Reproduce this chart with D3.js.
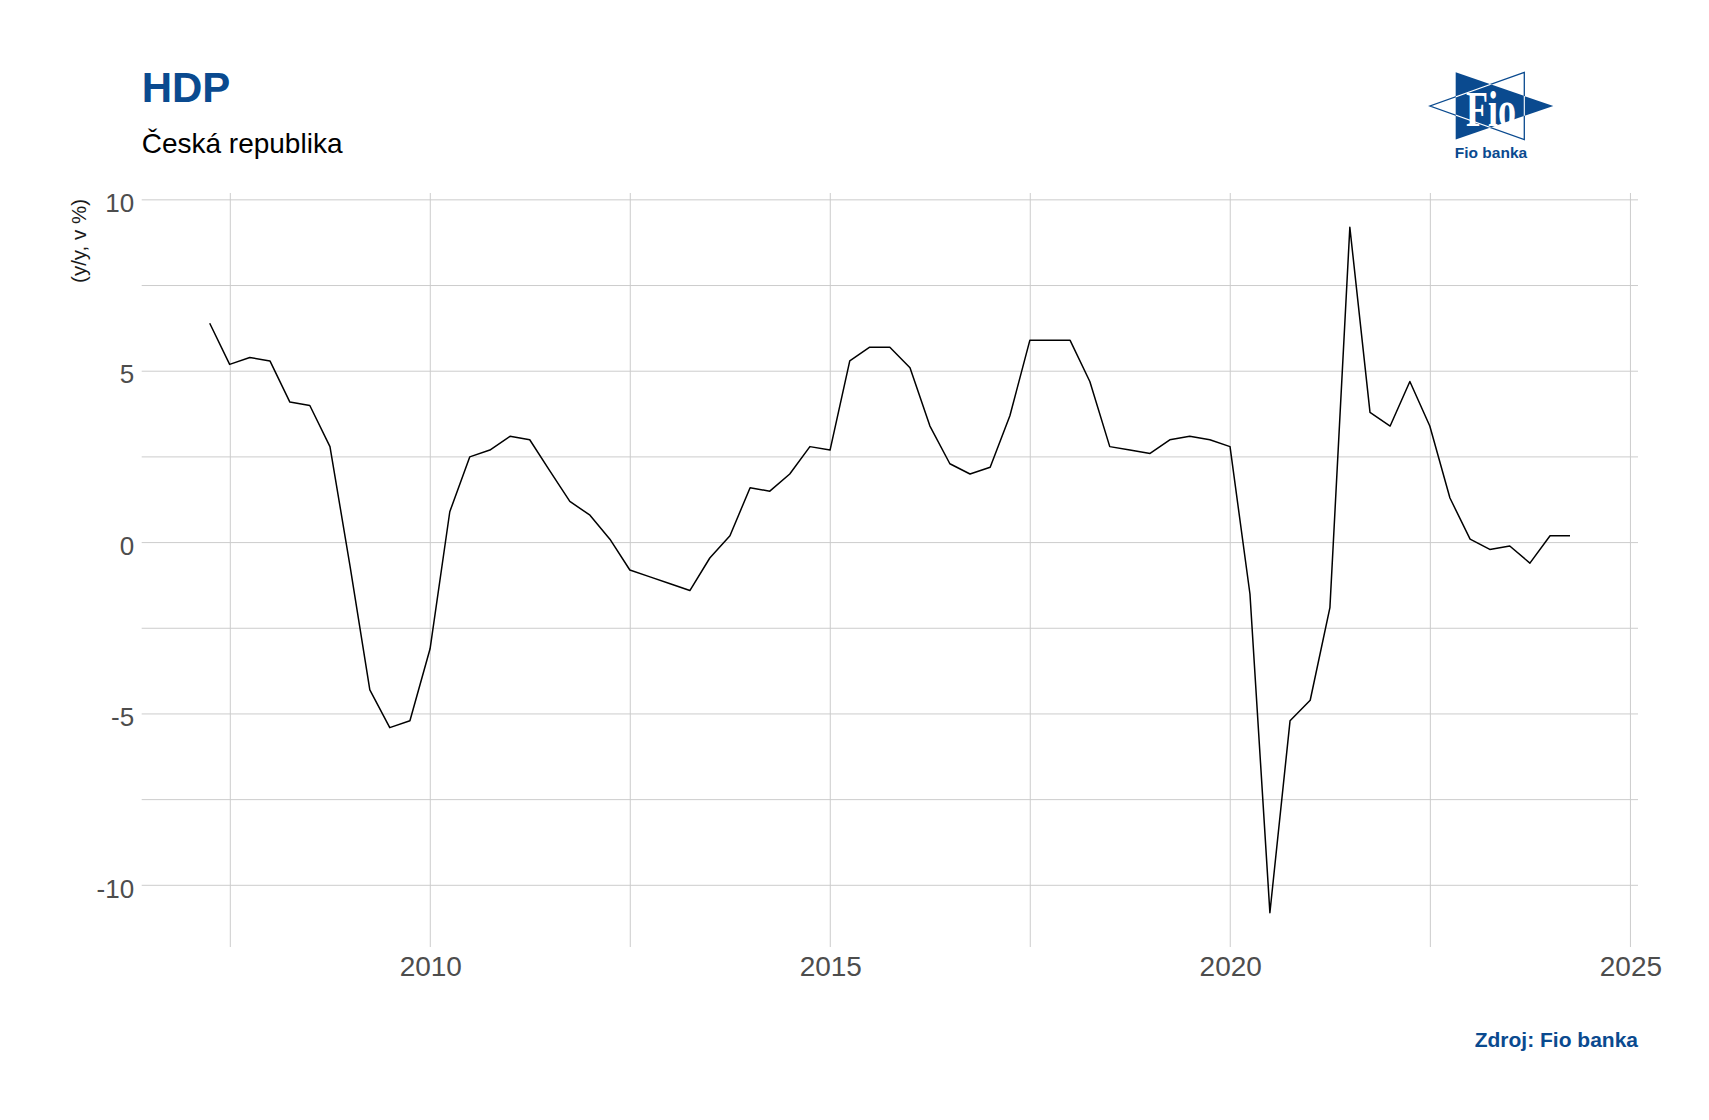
<!DOCTYPE html>
<html>
<head>
<meta charset="utf-8">
<script src="https://cdn.jsdelivr.net/npm/d3@7"></script>
<style>
html, body { margin: 0; padding: 0; background: #ffffff; }
svg { display: block; font-family: "Liberation Sans", Arial, sans-serif; }
</style>
</head>
<body>
<svg id="chart" width="1709" height="1120"></svg>
<script>
// ---------------- data ----------------
const quarters = [
  "2007Q1","2007Q2","2007Q3","2007Q4",
  "2008Q1","2008Q2","2008Q3","2008Q4",
  "2009Q1","2009Q2","2009Q3","2009Q4",
  "2010Q1","2010Q2","2010Q3","2010Q4",
  "2011Q1","2011Q2","2011Q3","2011Q4",
  "2012Q1","2012Q2","2012Q3","2012Q4",
  "2013Q1","2013Q2","2013Q3","2013Q4",
  "2014Q1","2014Q2","2014Q3","2014Q4",
  "2015Q1","2015Q2","2015Q3","2015Q4",
  "2016Q1","2016Q2","2016Q3","2016Q4",
  "2017Q1","2017Q2","2017Q3","2017Q4",
  "2018Q1","2018Q2","2018Q3","2018Q4",
  "2019Q1","2019Q2","2019Q3","2019Q4",
  "2020Q1","2020Q2","2020Q3","2020Q4",
  "2021Q1","2021Q2","2021Q3","2021Q4",
  "2022Q1","2022Q2","2022Q3","2022Q4",
  "2023Q1","2023Q2","2023Q3","2023Q4",
  "2024Q1"
];
const gdpGrowth = [
  6.4, 5.2, 5.4, 5.3,
  4.1, 4.0, 2.8, -0.7,
  -4.3, -5.4, -5.2, -3.1,
  0.9, 2.5, 2.7, 3.1,
  3.0, 2.1, 1.2, 0.8,
  0.1, -0.8, -1.0, -1.2,
  -1.4, -0.45, 0.2, 1.6,
  1.5, 2.0, 2.8, 2.7,
  5.3, 5.7, 5.7, 5.1,
  3.4, 2.3, 2.0, 2.2,
  3.7, 5.9, 5.9, 5.9,
  4.7, 2.8, 2.7, 2.6,
  3.0, 3.1, 3.0, 2.8,
  -1.5, -10.8, -5.2, -4.6,
  -1.9, 9.2, 3.8, 3.4,
  4.7, 3.4, 1.3, 0.1,
  -0.2, -0.1, -0.6, 0.2,
  0.2
];
const yTicks = [-10, -5, 0, 5, 10];
const yMinorTicks = [-7.5, -2.5, 2.5, 7.5];
const xTickYears = [2005, 2010, 2015, 2020, 2025];

const titleText = "HDP";
const subtitleText = "Česká republika";
const yAxisTitle = "(y/y, v %)";
const sourceText = "Zdroj: Fio banka";
const logoWord = "Fio";
const logoCaption = "Fio banka";

// ---------------- layout ----------------
const fioBlue = "#0a4a8f";
const panel = { left: 141.7, right: 1638, top: 193, bottom: 947 };
const gridColor = "#cccccc";

const svg = d3.select("#chart");

// quarter label -> last day of quarter (UTC)
function quarterEnd(q) {
  const year = +q.slice(0, 4), qi = +q.slice(5);
  return new Date(Date.UTC(year, qi * 3, 1) - 864e5);
}
const data = quarters.map((q, i) => ({ date: quarterEnd(q), value: gdpGrowth[i] }));

// ggplot-like 5% expansion
const dExt = d3.extent(data, d => +d.date);
const dPad = (dExt[1] - dExt[0]) * 0.05;
const vExt = d3.extent(data, d => d.value);
const vPad = (vExt[1] - vExt[0]) * 0.05;

const x = d3.scaleUtc()
  .domain([new Date(dExt[0] - dPad), new Date(dExt[1] + dPad)])
  .range([panel.left, panel.right]);
const y = d3.scaleLinear()
  .domain([vExt[0] - vPad, vExt[1] + vPad])
  .range([panel.bottom, panel.top]);

const xDomain = x.domain().map(Number);
const majorDates = xTickYears.map(yr => new Date(Date.UTC(yr, 0, 1)));
const minorDates = d3.pairs(majorDates).map(([a, b]) => new Date((+a + +b) / 2));
const inX = d => +d >= xDomain[0] && +d <= xDomain[1];
const majorIn = majorDates.filter(inX);
const minorIn = minorDates.filter(inX);

// ---------------- grid ----------------
const grid = svg.append("g").attr("class", "grid");
grid.selectAll("line.h")
  .data(yTicks.concat(yMinorTicks))
  .join("line")
  .attr("x1", panel.left).attr("x2", panel.right)
  .attr("y1", d => y(d)).attr("y2", d => y(d))
  .attr("stroke", gridColor).attr("stroke-width", 1);
grid.selectAll("line.v")
  .data(majorIn.concat(minorIn))
  .join("line")
  .attr("y1", panel.top).attr("y2", panel.bottom)
  .attr("x1", d => x(d)).attr("x2", d => x(d))
  .attr("stroke", gridColor).attr("stroke-width", 1);

// ---------------- axes (labels only) ----------------
const yAxis = svg.append("g")
  .attr("transform", `translate(${panel.left},0)`)
  .call(d3.axisLeft(y).tickValues(yTicks).tickSize(0).tickPadding(7.5)
    .tickFormat(d => String(d)));
yAxis.select(".domain").remove();
yAxis.selectAll("text")
  .attr("dy", "0.45em")
  .attr("fill", "#4d4d4d")
  .style("font-size", "26px")
  .style("font-family", '"Liberation Sans", Arial, sans-serif');

const xAxis = svg.append("g")
  .attr("transform", `translate(0,${panel.bottom})`)
  .call(d3.axisBottom(x).tickValues(majorIn).tickSize(0).tickPadding(9)
    .tickFormat(d3.utcFormat("%Y")));
xAxis.select(".domain").remove();
xAxis.selectAll("text")
  .attr("fill", "#4d4d4d")
  .style("font-size", "28px")
  .style("font-family", '"Liberation Sans", Arial, sans-serif');

// ---------------- line ----------------
const line = d3.line().x(d => x(d.date)).y(d => y(d.value));
svg.append("path")
  .datum(data)
  .attr("d", line)
  .attr("fill", "none")
  .attr("stroke", "#000000")
  .attr("stroke-width", 1.5)
  .attr("stroke-linejoin", "round");

// ---------------- texts ----------------
svg.append("text")
  .attr("x", panel.left).attr("y", 101.5)
  .attr("fill", fioBlue)
  .style("font-size", "42px").style("font-weight", "bold")
  .text(titleText);

svg.append("text")
  .attr("x", panel.left).attr("y", 153)
  .attr("fill", "#000000")
  .style("font-size", "28px")
  .text(subtitleText);

svg.append("text")
  .attr("transform", "translate(85.5,199) rotate(-90)")
  .attr("text-anchor", "end")
  .attr("fill", "#1a1a1a")
  .style("font-size", "20.5px")
  .text(yAxisTitle);

svg.append("text")
  .attr("x", panel.right).attr("y", 1047)
  .attr("text-anchor", "end")
  .attr("fill", fioBlue)
  .style("font-size", "21px").style("font-weight", "bold")
  .text(sourceText);

// ---------------- logo ----------------
const logo = svg.append("g").attr("class", "logo");
const T1 = [[1455.7, 72.3], [1553.3, 106], [1455.7, 139.5]];   // right-pointing, filled
const T2 = [[1524.3, 72.3], [1430, 106], [1524.3, 139.5]];     // left-pointing, outline
const poly = pts => "M" + pts.map(p => p.join(",")).join("L") + "Z";
svg.append("defs").append("clipPath").attr("id", "t1clip")
  .append("path").attr("d", poly(T1));
logo.append("path").attr("d", poly(T2))
  .attr("fill", "none").attr("stroke", fioBlue).attr("stroke-width", 1.3);
logo.append("path").attr("d", poly(T1)).attr("fill", fioBlue);
logo.append("path").attr("d", poly(T2))
  .attr("clip-path", "url(#t1clip)")
  .attr("fill", "none").attr("stroke", "#ffffff").attr("stroke-width", 1.1);
logo.append("text")
  .attr("transform", "translate(1491,126) scale(1,1.4)")
  .attr("text-anchor", "middle")
  .attr("fill", "#ffffff")
  .style("font-family", '"Liberation Serif", "Times New Roman", serif')
  .style("font-weight", "bold")
  .style("font-size", "36px")
  .text(logoWord);
logo.append("text")
  .attr("x", 1491).attr("y", 157.7)
  .attr("text-anchor", "middle")
  .attr("fill", fioBlue)
  .style("font-size", "15.5px").style("font-weight", "bold")
  .text(logoCaption);
</script>
</body>
</html>
